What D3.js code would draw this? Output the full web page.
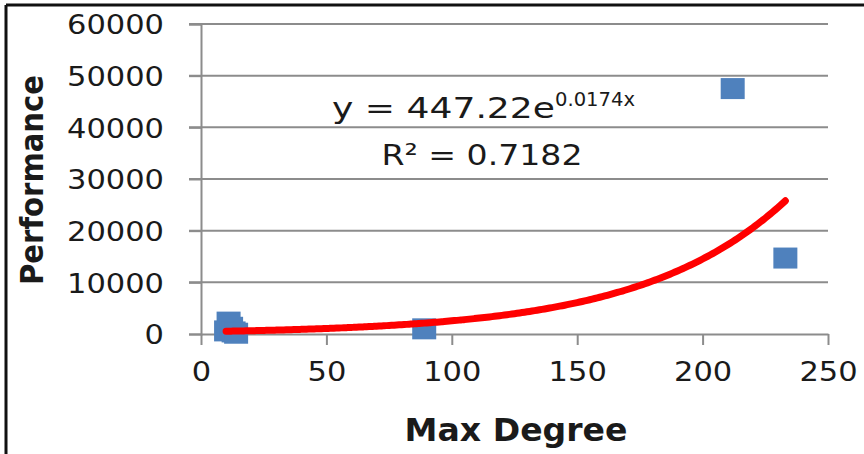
<!DOCTYPE html>
<html>
<head>
<meta charset="utf-8">
<script src="https://cdn.jsdelivr.net/npm/d3@7"></script>
<style>
  html, body { margin: 0; padding: 0; background: #fff; }
  svg { display: block; }
  text { font-family: "DejaVu Sans", sans-serif; fill: #1a1a1a; }
</style>
</head>
<body>
<svg id="chart" width="864" height="454"></svg>
<script>
// ---- data ----
const maxDegree   = [10, 11, 12, 13, 14, 89, 212, 233];
const performance = [600, 2300, 1300, 400, 150, 1000, 47500, 14700];
const xTicks = [0, 50, 100, 150, 200, 250];
const yTicks = [0, 10000, 20000, 30000, 40000, 50000, 60000];
const trendCoef = [447.22];       // a in y = a e^(b x)
const trendRate = [0.0174];       // b
const trendR2   = ["0.7182"];
const xTitle = "Max Degree";
const yTitle = "Performance";

const svg = d3.select("#chart");
const W = 864, H = 454;
const m = { left: 201, right: 864 - 828, top: 24, bottom: 454 - 334 };

const x = d3.scaleLinear().domain([0, 250]).range([m.left, W - m.right]);
const y = d3.scaleLinear().domain([0, 60000]).range([H - m.bottom, m.top]);

// outer frame (left + top)
svg.append("line").attr("x1", 6).attr("y1", 5).attr("x2", 6).attr("y2", H)
  .attr("stroke", "#111").attr("stroke-width", 3);
svg.append("line").attr("x1", 6).attr("y1", 5).attr("x2", W).attr("y2", 5)
  .attr("stroke", "#111").attr("stroke-width", 3);

// horizontal gridlines
svg.append("g").selectAll("line").data(yTicks.filter(d => d > 0)).join("line")
  .attr("x1", x(0) - 12).attr("x2", x(250))
  .attr("y1", d => y(d)).attr("y2", d => y(d))
  .attr("stroke", "#8c8c8c").attr("stroke-width", 2);

// y axis
const yAxis = svg.append("g").attr("transform", `translate(${x(0)},0)`)
  .call(d3.axisLeft(y).tickValues(yTicks).tickSize(12).tickPadding(25).tickFormat(d3.format("d")));
yAxis.select(".domain").attr("stroke", "#8c8c8c").attr("stroke-width", 2);
yAxis.selectAll(".tick line").attr("stroke", "#8c8c8c").attr("stroke-width", 2);
yAxis.selectAll(".tick text").attr("font-size", 27).attr("fill", "#111")
  .style("font-family", "DejaVu Sans")
  .attr("dy", "0.36em")
  .attr("textLength", d => String(d).length * 19.4).attr("lengthAdjust", "spacingAndGlyphs");

// x axis
const xAxis = svg.append("g").attr("transform", `translate(0,${y(0)})`)
  .call(d3.axisBottom(x).tickValues(xTicks).tickSize(11).tickPadding(20).tickSizeOuter(0));
xAxis.select(".domain").attr("stroke", "#8c8c8c").attr("stroke-width", 2);
xAxis.selectAll(".tick line").attr("stroke", "#8c8c8c").attr("stroke-width", 2);
xAxis.selectAll(".tick text").attr("font-size", 27).attr("fill", "#111")
  .style("font-family", "DejaVu Sans")
  .attr("dy", "0.58em")
  .attr("textLength", d => String(d).length * 19.4).attr("lengthAdjust", "spacingAndGlyphs");

// points
const pts = maxDegree.map((d, i) => ({ x: d, y: performance[i] }));
svg.append("g").selectAll("rect").data(pts).join("rect")
  .attr("x", d => x(d.x) - 12).attr("y", d => y(d.y) - 10.5)
  .attr("width", 24).attr("height", 21)
  .attr("fill", "#4f81bd");

// exponential trendline from stated fit
const xmin = d3.min(maxDegree), xmax = d3.max(maxDegree);
const trend = d3.range(xmin, xmax + 0.001, 1).map(v => ({ x: v, y: trendCoef[0] * Math.exp(trendRate[0] * v) }));
svg.append("path").datum(trend)
  .attr("d", d3.line().x(d => x(d.x)).y(d => y(d.y)).curve(d3.curveMonotoneX))
  .attr("fill", "none").attr("stroke", "#ff0000").attr("stroke-width", 7)
  .attr("stroke-linecap", "round").attr("stroke-linejoin", "round");

// equation label
const eq = svg.append("text").attr("x", 332).attr("y", 118).attr("font-size", 29).attr("fill", "#111");
eq.append("tspan").attr("textLength", 223).attr("lengthAdjust", "spacingAndGlyphs").text(`y = ${trendCoef[0]}e`);
eq.append("tspan").attr("dy", -12).attr("font-size", 19)
  .attr("textLength", 80).attr("lengthAdjust", "spacingAndGlyphs").text(`${trendRate[0]}x`);
svg.append("text").attr("x", 482).attr("y", 165).attr("font-size", 29).attr("text-anchor", "middle")
  .attr("fill", "#111")
  .attr("textLength", 201).attr("lengthAdjust", "spacingAndGlyphs")
  .text(`R² = ${trendR2[0]}`);

// axis titles
svg.append("text").attr("x", 516).attr("y", 441).attr("text-anchor", "middle")
  .attr("font-size", 32).attr("font-weight", "bold").attr("fill", "#000")
  .attr("textLength", 223).attr("lengthAdjust", "spacingAndGlyphs")
  .text(xTitle);
svg.append("text").attr("transform", "translate(43,180) rotate(-90)").attr("text-anchor", "middle")
  .attr("font-size", 32).attr("font-weight", "bold").attr("fill", "#000")
  .attr("textLength", 210).attr("lengthAdjust", "spacingAndGlyphs")
  .text(yTitle);
</script>
</body>
</html>
